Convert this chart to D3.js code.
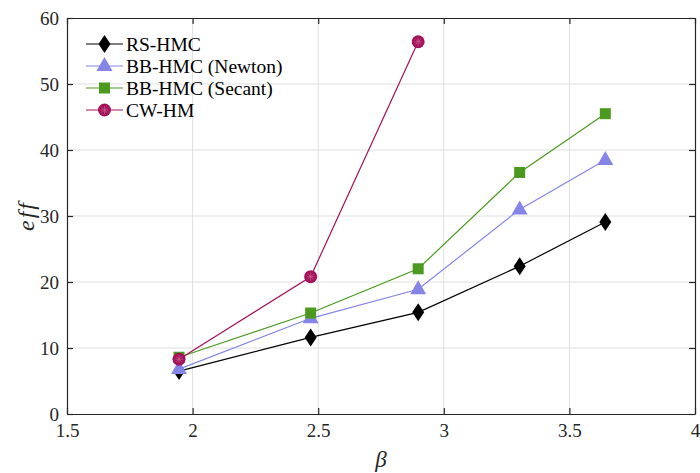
<!DOCTYPE html>
<html>
<head>
<meta charset="utf-8">
<script src="https://cdn.jsdelivr.net/npm/d3@7"></script>
<style>
  body { margin: 0; background: #fff; }
  svg text { font-family: "Liberation Serif", "DejaVu Serif", serif; }
</style>
</head>
<body>
<div id="chart"></div>
<script>
// data
var betas = [1.946, 2.47, 2.898, 3.302, 3.643]
var rsHmc = [6.5, 11.6, 15.4, 22.4, 29.1]
var bbNewton = [6.8, 14.5, 18.9, 31.0, 38.5]
var bbSecant = [8.6, 15.3, 22.0, 36.6, 45.5]
var cwBetas = [1.946, 2.47, 2.898]
var cwHm = [8.3, 20.8, 56.4]

var xTicks = [1.5, 2, 2.5, 3, 3.5, 4]
var yTicks = [0, 10, 20, 30, 40, 50, 60]

var series = [
  {name: "RS-HMC", xs: betas, ys: rsHmc, color: "#000000", marker: "diamond"},
  {name: "BB-HMC (Newton)", xs: betas, ys: bbNewton, color: "#8585e8", marker: "triangle"},
  {name: "BB-HMC (Secant)", xs: betas, ys: bbSecant, color: "#4b9a1f", marker: "square"},
  {name: "CW-HM", xs: cwBetas, ys: cwHm, color: "#a3125a", marker: "circle"}
]

var W = 700, H = 473
var margin = {left: 67, right: 5, top: 18, bottom: 59}
var pw = W - margin.left - margin.right
var ph = H - margin.top - margin.bottom

var svg = d3.select("#chart").append("svg")
    .attr("width", W)
    .attr("height", H)

var x = d3.scaleLinear().domain([1.5, 4]).range([0, pw])
var y = d3.scaleLinear().domain([0, 60]).range([ph, 0])

var g = svg.append("g")
    .attr("transform", "translate(" + margin.left + "," + margin.top + ")")

// grid
g.selectAll(".gx").data(xTicks.slice(1, -1)).enter().append("line")
    .attr("x1", d => x(d)).attr("x2", d => x(d))
    .attr("y1", 0).attr("y2", ph)
    .attr("stroke", "#dfdfdf").attr("stroke-width", 1)
g.selectAll(".gy").data(yTicks.slice(1, -1)).enter().append("line")
    .attr("y1", d => y(d)).attr("y2", d => y(d))
    .attr("x1", 0).attr("x2", pw)
    .attr("stroke", "#dfdfdf").attr("stroke-width", 1)

// axes (ticks point inward, box on)
var axisColor = "#262626"
function styleAxis(sel) {
  sel.attr("font-family", "Liberation Serif").attr("font-size", 19)
  sel.select(".domain").attr("stroke", axisColor).attr("stroke-width", 1.2)
  sel.selectAll(".tick line").attr("stroke", axisColor).attr("stroke-width", 1.2)
  sel.selectAll(".tick text").attr("fill", "#262626")
}

g.append("g")
    .attr("transform", "translate(0," + ph + ")")
    .call(d3.axisBottom(x).tickValues(xTicks).tickFormat(d3.format("")).tickSizeInner(-6).tickSizeOuter(0).tickPadding(10))
    .call(styleAxis)
g.append("g")
    .call(d3.axisLeft(y).tickValues(yTicks).tickSizeInner(-6).tickSizeOuter(0).tickPadding(8))
    .call(styleAxis)
g.append("g")
    .call(d3.axisTop(x).tickValues(xTicks).tickFormat("").tickSizeInner(-6).tickSizeOuter(0))
    .call(styleAxis)
g.append("g")
    .attr("transform", "translate(" + pw + ",0)")
    .call(d3.axisRight(y).tickValues(yTicks).tickFormat("").tickSizeInner(-6).tickSizeOuter(0))
    .call(styleAxis)

// markers
function drawMarker(sel, kind, color) {
  if (kind == "diamond") {
    sel.append("path").attr("d", "M0,-9L6,0L0,9L-6,0Z").attr("fill", color)
  } else if (kind == "triangle") {
    sel.append("path").attr("d", "M0,-9L8,5L-8,5Z").attr("fill", color)
  } else if (kind == "square") {
    sel.append("rect").attr("x", -5.5).attr("y", -5.5).attr("width", 11).attr("height", 11).attr("fill", color)
  } else {
    sel.append("circle").attr("r", 6.5).attr("fill", color)
    // faint asterisk overlaid on the circle
    var star = sel.append("g").attr("stroke", "#c9608f").attr("stroke-width", 0.7)
    for (var a = 0; a < 4; a++) {
      var ang = a * Math.PI / 4
      star.append("line")
        .attr("x1", -4 * Math.cos(ang)).attr("y1", -4 * Math.sin(ang))
        .attr("x2", 4 * Math.cos(ang)).attr("y2", 4 * Math.sin(ang))
    }
  }
}

var line = d3.line().x(d => x(d[0])).y(d => y(d[1]))

series.forEach(function(s) {
  var pts = s.xs.map((v, i) => [v, s.ys[i]])
  g.append("path")
      .datum(pts)
      .attr("fill", "none")
      .attr("stroke", s.color)
      .attr("stroke-width", 1.2)
      .attr("d", line)
  pts.forEach(function(p) {
    var m = g.append("g").attr("transform", "translate(" + x(p[0]) + "," + y(p[1]) + ")")
    drawMarker(m, s.marker, s.color)
  })
})

// legend
var legend = g.append("g").attr("transform", "translate(19,26)")
series.forEach(function(s, i) {
  var row = legend.append("g").attr("transform", "translate(0," + (i * 22) + ")")
  row.append("line").attr("x1", 0).attr("x2", 37).attr("y1", 0).attr("y2", 0)
      .attr("stroke", s.color).attr("stroke-width", 1.2)
  var m = row.append("g").attr("transform", "translate(18.5,0)")
  drawMarker(m, s.marker, s.color)
  row.append("text")
      .attr("x", 40).attr("y", 6.5)
      .style("font-size", "19.5px")
      .attr("fill", "#000")
      .text(s.name)
})

// axis labels
svg.append("text")
    .attr("x", margin.left + pw / 2)
    .attr("y", H - 6)
    .attr("text-anchor", "middle")
    .style("font-size", "23px")
    .style("font-style", "italic")
    .attr("fill", "#262626")
    .text("β")
svg.append("text")
    .attr("transform", "translate(34," + (margin.top + ph / 2) + ") rotate(-90)")
    .attr("text-anchor", "middle")
    .style("font-size", "24px")
    .style("font-style", "italic")
    .style("font-variant-ligatures", "none")
    .style("letter-spacing", "2px")
    .attr("fill", "#262626")
    .text("eff")
</script>
</body>
</html>
